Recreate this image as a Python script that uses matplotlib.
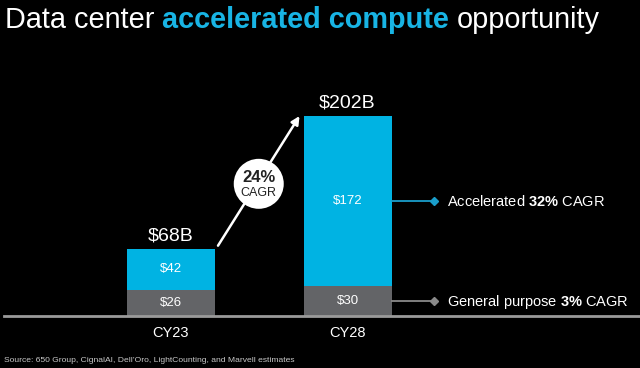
import matplotlib
matplotlib.use("Agg")
import matplotlib.pyplot as plt
from matplotlib.patches import Circle
import matplotlib.transforms as mtransforms

plt.rcParams['font.family'] = ['Liberation Sans', 'DejaVu Sans']
plt.rcParams['mathtext.fontset'] = 'custom'
plt.rcParams['mathtext.rm'] = 'Liberation Sans'
plt.rcParams['mathtext.bf'] = 'Liberation Sans:bold'

# ---- data ----
categories = ['CY23', 'CY28']
general = [26, 30]
accelerated = [42, 172]
total_labels = ['$68B', '$202B']
overall_cagr = '24%'
series_names = ['General purpose', 'Accelerated']
series_cagr = ['3%', '32%']
title_parts = ['Data center', 'accelerated compute', 'opportunity']
source = 'Source: 650 Group, CignalAI, Dell\u2019Oro, LightCounting, and Marvell estimates'

CYAN = '#00B3E3'
CYAN_LINE = '#1A9ECB'
GRAY = '#636467'
GRAY_LINE = '#8A8A8A'
BG = 'black'

W, H = 640, 368
fig = plt.figure(figsize=(W / 100, H / 100), dpi=100, facecolor=BG)
base_px = 316
ax = fig.add_axes([0, (H - base_px) / H, 1, base_px / H])
ax.set_facecolor('none')
px_per_unit = 0.99
ax.set_ylim(0, base_px / px_per_unit)
xpx = 176.5
ax.set_xlim(-171 / xpx, 1 + (W - 347.5) / xpx)
for s in ax.spines.values():
    s.set_visible(False)
ax.set_xticks([])
ax.set_yticks([])

xs = list(range(len(categories)))
bw = 88 / xpx
ax.bar(xs, general, bw, color=GRAY, zorder=2)
ax.bar(xs, accelerated, bw, bottom=general, color=CYAN, zorder=2)
ax.axhline(0, xmin=4 / W, xmax=1, color='#9a9a9a', lw=2, clip_on=False, zorder=3)

for i in xs:
    g, a = general[i], accelerated[i]
    ax.text(i, g / 2, f'${g}', ha='center', va='center', color='white', fontsize=9.5, zorder=4)
    ax.text(i, g + a / 2, f'${a}', ha='center', va='center', color='white', fontsize=9.5, zorder=4)
    ax.annotate(total_labels[i], (i, g + a), xytext=(0, 5.8), textcoords='offset points',
                ha='center', va='baseline', color='white', fontsize=14)
    ax.annotate(categories[i], (i, 0), xytext=(0, -15.3), textcoords='offset points',
                ha='center', va='baseline', color='white', fontsize=10.5, annotation_clip=False)

# growth arrow
x0 = xs[0] + bw / 2 + 3 / xpx
y0 = general[0] + accelerated[0] + 3 / px_per_unit
x1 = xs[1] - bw / 2 - 4 / xpx
y1 = general[1] + accelerated[1]
ax.annotate('', xy=(x1, y1), xytext=(x0, y0),
            arrowprops=dict(arrowstyle='-|>', color='white', lw=1.8, mutation_scale=12,
                            shrinkA=0, shrinkB=0), zorder=5)
mid = ax.transData.transform(((x0 + x1) / 2, (y0 + y1) / 2 - 3))
circ = Circle(mid, 25, transform=mtransforms.IdentityTransform(), facecolor='white',
              edgecolor='none', zorder=6)
fig.patches.append(circ)
mx, my = mid[0] / W, mid[1] / H
fig.text(mx, my + 6 / H, overall_cagr, ha='center', va='center', fontsize=12,
         fontweight='bold', color='#222222', zorder=7)
fig.text(mx, my - 9 / H, 'CAGR', ha='center', va='center', fontsize=9,
         color='#222222', zorder=7)

# series callouts
xr = xs[1] + bw / 2
xe = xr + 42 / xpx
callouts = [
    (general[1] / 2, series_names[0], series_cagr[0], GRAY_LINE),
    (general[1] + accelerated[1] / 2, series_names[1], series_cagr[1], CYAN_LINE),
]
for yv, name, cg, col in callouts:
    ax.plot([xr, xe], [yv, yv], color=col, lw=1.3, marker='D', markersize=4,
            markevery=[1], zorder=3)
    cg_m = cg.replace('%', r'\%')
    ax.annotate(f'{name} $\\mathbf{{{cg_m}}}$ CAGR', (xe, yv), xytext=(9.5, -3.7),
                textcoords='offset points', ha='left', va='baseline', color='white',
                fontsize=10.5)

# title with mixed styles
r = fig.canvas.get_renderer()
def text_width(s, **kw):
    t = fig.text(0, 0, s, **kw)
    w = t.get_window_extent(r).width
    t.remove()
    return w

tsize = 20.8
space_w = text_width('x x', fontsize=tsize) - text_width('xx', fontsize=tsize)
xcur = 5
ybase = 1 - 28.5 / H
styles = [('normal', 'white'), ('bold', '#18B4E4'), ('normal', 'white')]
for part, (wt, col) in zip(title_parts, styles):
    t = fig.text(xcur / W, ybase, part, fontsize=tsize, fontweight=wt, color=col,
                 ha='left', va='baseline')
    xcur += t.get_window_extent(r).width + space_w

fig.text(4 / W, 1 - 362 / H, source, fontsize=6.1, color='#c8c8c8', ha='left', va='baseline')

fig.savefig('out.png', dpi=100, facecolor=BG)
